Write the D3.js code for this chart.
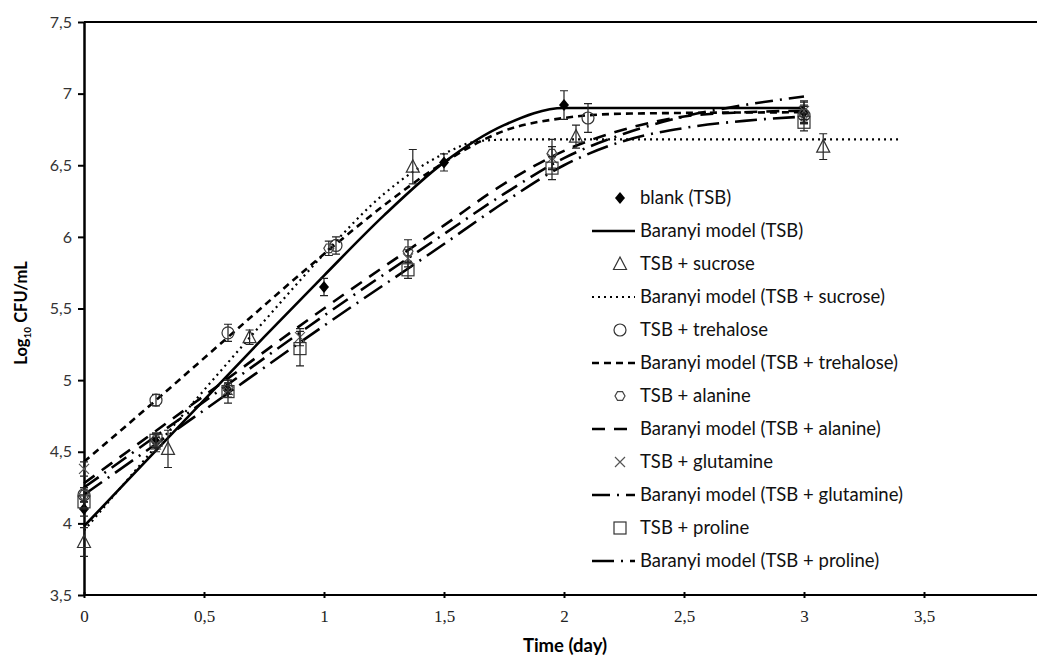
<!DOCTYPE html>
<html><head><meta charset="utf-8">
<script src="https://cdn.jsdelivr.net/npm/d3@7"></script>
<style>body{margin:0;background:#fff}svg{display:block}</style>
</head><body><svg id="c" width="1037" height="658"></svg>
<script>
// ---- data ----
const xTicks = [0, 0.5, 1, 1.5, 2, 2.5, 3, 3.5];
const yTicks = [3.5, 4, 4.5, 5, 5.5, 6, 6.5, 7, 7.5];

// measured points: [time, log CFU, sd]
const blankPts     = [[0,4.1,0.05],[0.3,4.57,0.05],[0.6,4.93,0.05],[1,5.65,0.06],[1.5,6.52,0.06],[2,6.92,0.1],[3,6.87,0.08]];
const sucrosePts   = [[0,3.87,0.1],[0.35,4.52,0.13],[0.69,5.3,0.05],[1.37,6.49,0.12],[2.05,6.7,0.08],[3.08,6.63,0.09]];
const trehalosePts = [[0,4.2,0.05],[0.3,4.86,0.04],[0.6,5.33,0.06],[1.05,5.94,0.06],[2.1,6.83,0.1],[3,6.85,0.06]];
const alaninePts   = [[0,4.2,0.05],[0.3,4.58,0.05],[0.6,4.95,0.05],[1.02,5.92,0.05],[1.35,5.9,0.08],[1.95,6.58,0.1],[3,6.86,0.06]];
const glutaminePts = [[0,4.38,0.05],[0.3,4.55,0.05],[0.6,4.93,0.05],[0.9,5.3,0.06],[1.35,5.85,0.06],[1.95,6.55,0.08],[3,6.88,0.06]];
const prolinePts   = [[0,4.15,0.05],[0.3,4.58,0.05],[0.6,4.92,0.08],[0.9,5.22,0.12],[1.35,5.77,0.06],[1.95,6.48,0.08],[3,6.8,0.06]];

// model curves: [time, log CFU]
const blankModel     = [[0,3.98],[0.25,4.42],[0.5,4.86],[0.75,5.3],[1,5.73],[1.25,6.15],[1.5,6.52],[1.75,6.78],[2,6.9],[2.25,6.9],[3,6.9]];
const sucroseModel   = [[0,3.95],[0.25,4.44],[0.5,4.93],[0.75,5.41],[1,5.88],[1.25,6.3],[1.5,6.58],[1.65,6.67],[1.8,6.68],[2,6.68],[3.4,6.68]];
const trehaloseModel = [[0,4.43],[0.3,4.86],[0.6,5.3],[1,5.88],[1.25,6.22],[1.5,6.52],[1.75,6.74],[2,6.83],[2.25,6.86],[3,6.87]];
const alanineModel   = [[0,4.28],[0.5,4.89],[1,5.5],[1.5,6.08],[1.75,6.37],[2,6.6],[2.25,6.75],[2.5,6.84],[2.75,6.87],[3,6.88]];
const glutamineModel = [[0,4.25],[0.5,4.85],[1,5.45],[1.5,6.02],[1.75,6.3],[2,6.55],[2.25,6.72],[2.5,6.84],[2.75,6.92],[3,6.98]];
const prolineModel   = [[0,4.2],[0.5,4.79],[1,5.38],[1.5,5.95],[1.75,6.24],[2,6.5],[2.25,6.67],[2.5,6.76],[2.75,6.81],[3,6.84]];

const legendLabels = ["blank (TSB)","Baranyi model (TSB)","TSB + sucrose","Baranyi model (TSB + sucrose)",
  "TSB + trehalose","Baranyi model (TSB + trehalose)","TSB + alanine","Baranyi model (TSB + alanine)",
  "TSB + glutamine","Baranyi model (TSB + glutamine)","TSB + proline","Baranyi model (TSB + proline)"];

// ---- drawing ----
const svg = d3.select("#c");
const x = d3.scaleLinear().domain([0,4]).range([84,1044]);
const y = d3.scaleLinear().domain([3.5,7.5]).range([595,22]);

const fmt = d => String(d).replace(".", ",");

// frame top line
svg.append("line").attr("x1",x(0)).attr("x2",1037).attr("y1",y(7.5)).attr("y2",y(7.5))
  .attr("stroke","#000").attr("stroke-width",2);

// x axis
const gx = svg.append("g").attr("transform",`translate(0,${y(3.5)})`)
  .call(d3.axisBottom(x).tickValues(xTicks).tickFormat(fmt).tickSize(4).tickSizeOuter(0));
gx.select(".domain").attr("stroke-width",2).attr("d",`M${x(0)},0H1037`);
gx.selectAll(".tick line").attr("y1",-3).attr("y2",3).attr("stroke-width",2);
gx.selectAll(".tick text").attr("font-family","Liberation Serif, serif").attr("font-size",17).attr("dy","1.2em").attr("fill","#222");

// y axis
const gy = svg.append("g").attr("transform",`translate(${x(0)},0)`)
  .call(d3.axisLeft(y).tickValues(yTicks).tickFormat(fmt).tickSize(6).tickSizeOuter(0));
gy.select(".domain").attr("stroke-width",2.5);
gy.selectAll(".tick line").attr("stroke-width",2);
gy.selectAll(".tick text").attr("font-family","Lato, sans-serif").attr("font-size",16).attr("fill","#333").attr("dx","-3");

// axis titles
svg.append("text").attr("x",565).attr("y",652).attr("text-anchor","middle")
  .attr("font-family","Lato, sans-serif").attr("font-weight","bold").attr("font-size",18.5).text("Time (day)");
const yt = svg.append("text").attr("transform","translate(27,313) rotate(-90)").attr("text-anchor","middle")
  .attr("font-family","Lato, sans-serif").attr("font-weight","bold").attr("font-size",16.5);
yt.append("tspan").text("Log");
yt.append("tspan").attr("font-size",10).attr("dy",4).text("10");
yt.append("tspan").attr("dy",-4).text(" CFU/mL");

// lines
const line = d3.line().x(d=>x(d[0])).y(d=>y(d[1])).curve(d3.curveMonotoneX);
const models = [
  {data: blankModel, dash: null, w: 2.6},
  {data: sucroseModel, dash: "2,4", w: 2.2},
  {data: trehaloseModel, dash: "7,5", w: 2.6},
  {data: alanineModel, dash: "13,9", w: 2.6},
  {data: glutamineModel, dash: "18,7,2,7", w: 2.6},
  {data: prolineModel, dash: "22,7,2,7", w: 2.6}
];
models.forEach(m => {
  svg.append("path").attr("d", line(m.data)).attr("fill","none").attr("stroke","#000")
    .attr("stroke-width", m.w).attr("stroke-dasharray", m.dash);
});

// markers
function marker(g, type, cx, cy) {
  const s = g.append("g").attr("transform",`translate(${cx},${cy})`);
  if (type==="diamond") s.append("path").attr("d","M0,-6L5,0L0,6L-5,0Z").attr("fill","#000");
  if (type==="triangle") s.append("path").attr("d","M0,-7L6.5,5.5L-6.5,5.5Z").attr("fill","none").attr("stroke","#333").attr("stroke-width",1.2);
  if (type==="circle") s.append("circle").attr("r",6).attr("fill","none").attr("stroke","#333").attr("stroke-width",1.2);
  if (type==="hex") s.append("path").attr("d",d3.range(6).map((i)=>{const a=Math.PI/3*i; return (i?"L":"M")+(5*Math.cos(a)).toFixed(2)+","+(5*Math.sin(a)).toFixed(2);}).join("")+"Z").attr("fill","none").attr("stroke","#444").attr("stroke-width",1.2);
  if (type==="cross") s.append("path").attr("d","M-5,-5L5,5M-5,5L5,-5").attr("stroke","#555").attr("stroke-width",1.2);
  if (type==="square") s.append("rect").attr("x",-6).attr("y",-6).attr("width",12).attr("height",12).attr("fill","none").attr("stroke","#333").attr("stroke-width",1.2);
}
const series = [
  {pts: blankPts, type:"diamond"},
  {pts: sucrosePts, type:"triangle"},
  {pts: trehalosePts, type:"circle"},
  {pts: alaninePts, type:"hex"},
  {pts: glutaminePts, type:"cross"},
  {pts: prolinePts, type:"square"}
];
series.forEach(s => {
  const g = svg.append("g");
  s.pts.forEach(p => {
    const cx = x(p[0]), y1 = y(p[1]-p[2]), y2 = y(p[1]+p[2]);
    g.append("path").attr("d",`M${cx},${y1}V${y2}M${cx-4},${y1}H${cx+4}M${cx-4},${y2}H${cx+4}`)
      .attr("stroke","#222").attr("stroke-width",1.2).attr("fill","none");
    marker(g, s.type, cx, y(p[1]));
  });
});

// legend
const lg = svg.append("g");
const markerTypes = ["diamond","triangle","circle","hex","cross","square"];
legendLabels.forEach((lab,i) => {
  const ly = 198 + i*33;
  if (i%2===0) {
    marker(lg, markerTypes[i/2], 620, ly);
  } else {
    const m = models[(i-1)/2];
    lg.append("line").attr("x1",592).attr("x2",635).attr("y1",ly).attr("y2",ly)
      .attr("stroke","#000").attr("stroke-width",m.w).attr("stroke-dasharray",m.dash);
  }
  lg.append("text").attr("x",640).attr("y",ly+6).attr("font-family","Lato, sans-serif")
    .attr("font-size",18.5).attr("fill","#111").text(lab);
});
</script></body></html>
